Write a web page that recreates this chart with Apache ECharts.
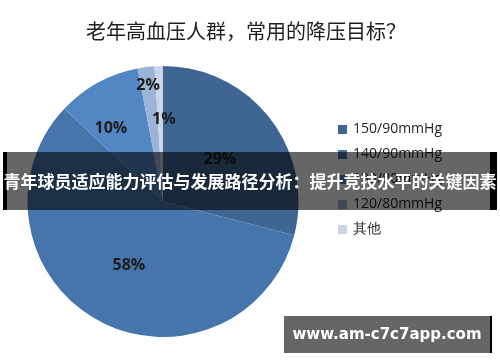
<!DOCTYPE html>
<html>
<head>
<meta charset="utf-8">
<script src="https://cdn.jsdelivr.net/npm/echarts@6/dist/echarts.min.js"></script>
<style>html,body{margin:0;padding:0;background:#fff;}#c{width:500px;height:362px;}</style>
</head>
<body>
<div id="c"></div>
<script>
const titleText = '老年高血压人群，常用的降压目标？';
const categories = ['150/90mmHg', '140/90mmHg', '130/80mmHg', '120/80mmHg', '其他'];
const values = [29, 58, 10, 2, 1];
const colors = ['#3f6592', '#4675ab', '#5387c4', '#9db4d8', '#cbd5e8'];
const bannerText = '青年球员适应能力评估与发展路径分析：提升竞技水平的关键因素';
const watermarkText = 'www.am-c7c7app.com';

const labelShift = [[1, 1], [0, 2], [-18, -11], [-6, -46], [3, -11]];

const chart = echarts.init(document.getElementById('c'), null, {renderer: 'canvas'});
chart.setOption({
  animation: false,
  backgroundColor: '#ffffff',
  color: colors,
  title: {
    text: titleText,
    left: 241, top: 16, textAlign: 'center',
    textStyle: {fontFamily: 'Noto Sans CJK SC', fontSize: 20, fontWeight: 'normal', color: '#1e1e1e'}
  },
  legend: {
    orient: 'vertical',
    left: 333, top: 115,
    itemWidth: 9, itemHeight: 9, itemGap: 6,
    icon: 'rect',
    data: categories,
    textStyle: {fontFamily: 'Open Sans', fontSize: 14, color: '#1e1e1e', padding: [0, 0, 0, 1], lineHeight: 19}
  },
  series: [{
    type: 'pie',
    center: [163, 201.5],
    radius: [0, 135.5],
    startAngle: 90,
    clockwise: true,
    avoidLabelOverlap: false,
    itemStyle: {borderWidth: 0},
    label: {
      show: true, position: 'inside',
      formatter: p => p.value + '%',
      fontFamily: 'Open Sans', fontSize: 16, fontWeight: 'bold', color: '#1c1c1c'
    },
    labelLine: {show: false},
    labelLayout: function (p) {
      const s = labelShift[p.dataIndex];
      return {dx: s[0], dy: s[1]};
    },
    emphasis: {disabled: true},
    data: categories.map((c, i) => ({name: c, value: values[i]}))
  }],
  graphic: [
    {type: 'rect', shape: {x: 7, y: 152, width: 483, height: 58}, style: {fill: 'rgba(0,0,0,0.6)'}, z: 100},
    {type: 'rect', shape: {x: 3, y: 152, width: 4, height: 58}, style: {fill: '#000'}, z: 100},
    {type: 'rect', shape: {x: 490, y: 152, width: 7, height: 58}, style: {fill: '#000'}, z: 100},
    {type: 'text', x: 250, y: 182, z: 101,
      style: {text: bannerText, fill: '#fff', font: 'bold 17px "Noto Sans CJK SC"', textAlign: 'center', textVerticalAlign: 'middle'}},
    {type: 'rect', shape: {x: 284, y: 316, width: 206, height: 37}, style: {fill: '#666'}, z: 100},
    {type: 'rect', shape: {x: 490, y: 316, width: 2, height: 37}, style: {fill: '#000'}, z: 100},
    {type: 'text', x: 387, y: 335, z: 101,
      style: {text: watermarkText, fill: '#fff', font: 'bold 15px "DejaVu Sans"', textAlign: 'center', textVerticalAlign: 'middle'}}
  ]
});
</script>
</body>
</html>
